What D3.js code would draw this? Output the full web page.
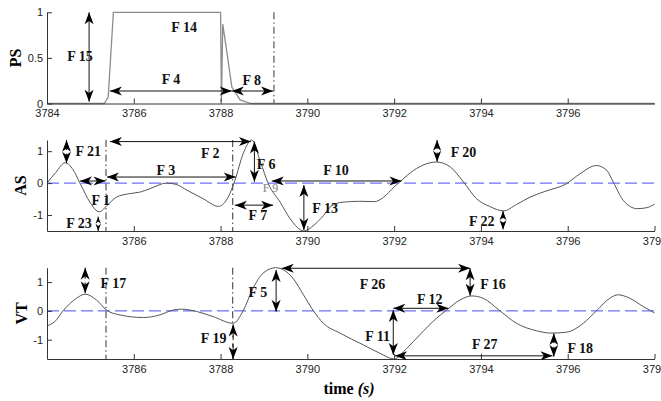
<!DOCTYPE html>
<html>
<head>
<meta charset="utf-8">
<script src="https://cdn.jsdelivr.net/npm/d3@7"></script>
<style>
  body { margin: 0; background: #fff; }
</style>
</head>
<body>
<div id="chart"></div>
<script>
// ---- data ----
const psTime  = [3784.00, 3785.32, 3785.41, 3785.53, 3788.00, 3788.02, 3788.05, 3788.14, 3788.26, 3788.45, 3788.70, 3798.00];
const psValue = [0, 0, 0.07, 1, 1, 0.02, 0.87, 0.58, 0.18, 0.04, 0, 0];

const asTime  = [3784.00, 3784.20, 3784.42, 3784.60, 3784.76, 3785.00, 3785.20, 3785.40, 3785.60, 3785.90, 3786.15, 3786.40,
                 3786.75, 3786.95, 3787.25, 3787.60, 3787.95, 3788.15, 3788.33, 3788.52, 3788.72, 3788.92, 3789.10, 3789.37,
                 3789.60, 3789.92, 3790.15, 3790.37, 3790.55, 3790.80, 3791.20, 3791.55, 3791.75, 3792.00, 3792.15, 3792.45,
                 3792.98, 3793.30, 3793.60, 3793.90, 3794.20, 3794.52, 3794.82, 3795.13, 3795.50, 3795.97, 3796.28, 3796.66,
                 3796.90, 3797.05, 3797.28, 3797.60, 3797.82, 3798.00];
const asValue = [0.00, 0.33, 0.64, 0.42, 0.00, -0.62, -0.90, -0.68, -0.44, -0.33, -0.28, -0.16,
                 0.00, -0.03, -0.24, -0.49, -0.73, -0.50, 0.08, 0.92, 1.35, 0.66, -0.02, -0.59,
                 -1.11, -1.50, -1.32, -1.02, -0.72, -0.60, -0.57, -0.58, -0.45, -0.12, 0.06, 0.40,
                 0.66, 0.50, 0.03, -0.49, -0.73, -0.87, -0.67, -0.44, -0.25, -0.02, 0.29, 0.55,
                 0.40, 0.03, -0.54, -0.80, -0.77, -0.66];

const vtTime  = [3784.00, 3784.18, 3784.37, 3784.68, 3784.88, 3785.14, 3785.37, 3785.68, 3786.22, 3786.60, 3786.91, 3787.10,
                 3787.45, 3787.83, 3788.29, 3788.52, 3788.75, 3788.98, 3789.27, 3789.67, 3789.91, 3790.14, 3790.37, 3790.75,
                 3791.29, 3791.67, 3792.00, 3792.29, 3792.59, 3792.98, 3793.21, 3793.52, 3793.79, 3794.05, 3794.44, 3794.82,
                 3795.28, 3795.62, 3795.97, 3796.36, 3796.66, 3796.97, 3797.16, 3797.43, 3797.74, 3798.00];
const vtValue = [-0.52, -0.37, 0.00, 0.44, 0.58, 0.38, 0.03, -0.14, -0.23, -0.14, 0.03, 0.06,
                 -0.02, -0.20, -0.43, 0.00, 0.79, 1.31, 1.50, 1.13, 0.56, 0.00, -0.43, -0.77,
                 -1.18, -1.47, -1.67, -1.30, -0.83, -0.25, 0.03, 0.38, 0.52, 0.44, 0.00, -0.43,
                 -0.69, -0.77, -0.74, -0.43, 0.00, 0.44, 0.56, 0.44, 0.15, -0.07];

const psXTicks = [3784, 3786, 3788, 3790, 3792, 3794, 3796];
const xTicks   = [3786, 3788, 3790, 3792, 3794, 3796, 3798];
const psYTicks = [0, 0.5, 1];
const yTicks   = [-1, 0, 1];

// dash-dot event markers (time)
const psMarks = [3789.23];
const asMarks = [3785.36, 3788.28];
const vtMarks = [3785.36, 3788.28];

// feature annotations: label at (lt, lv), arrow from a to b (time, value)
const psNotes = [
  { label: "F 15", lt: 3784.76, lv: 0.51, a: [3784.97, 1.0], b: [3784.97, 0.02], kind: "double" },
  { label: "F 14", lt: 3787.16, lv: 0.83 },
  { label: "F 4",  lt: 3786.86, lv: 0.26, a: [3785.45, 0.137], b: [3788.26, 0.137], kind: "double" },
  { label: "F 8",  lt: 3788.72, lv: 0.25, a: [3788.26, 0.137], b: [3789.21, 0.137], kind: "double" }
];
const asNotes = [
  { label: "F 21", lt: 3784.95, lv: 0.98,  a: [3784.45, 1.35],  b: [3784.45, 0.62],  kind: "dot" },
  { label: "F 23", lt: 3784.74, lv: -1.26, a: [3785.18, -1.05], b: [3785.18, -1.5],  kind: "dot" },
  { label: "F 1",  lt: 3785.24, lv: -0.53, a: [3784.76, 0.066], b: [3785.35, 0.066], kind: "double" },
  { label: "F 2",  lt: 3787.76, lv: 0.93,  a: [3785.45, 1.30],  b: [3788.70, 1.30],  kind: "double" },
  { label: "F 3",  lt: 3786.74, lv: 0.41,  a: [3785.38, 0.19],  b: [3788.35, 0.19],  kind: "double" },
  { label: "F 6",  lt: 3789.05, lv: 0.57,  a: [3788.78, 1.30],  b: [3788.78, 0.04],  kind: "double" },
  { label: "F 9",  lt: 3789.15, lv: -0.16, muted: true },
  { label: "F 10", lt: 3790.66, lv: 0.41,  a: [3789.18, 0.066], b: [3792.17, 0.066], kind: "double" },
  { label: "F 7",  lt: 3788.86, lv: -1.02, a: [3788.33, -0.69], b: [3789.21, -0.69], kind: "double" },
  { label: "F 13", lt: 3790.41, lv: -0.78, a: [3789.92, -0.06], b: [3789.92, -1.47], kind: "double" },
  { label: "F 20", lt: 3793.60, lv: 0.97,  a: [3792.99, 1.35],  b: [3792.99, 0.67],  kind: "dot" },
  { label: "F 22", lt: 3794.02, lv: -1.21, a: [3794.51, -0.87], b: [3794.51, -1.45], kind: "dot" }
];
const vtNotes = [
  { label: "F 17", lt: 3785.53, lv: 0.96,  a: [3784.88, 1.50],  b: [3784.88, 0.61],  kind: "dot" },
  { label: "F 19", lt: 3787.84, lv: -0.95, a: [3788.29, -0.47], b: [3788.29, -1.67], kind: "dot" },
  { label: "F 5",  lt: 3788.86, lv: 0.65,  a: [3789.28, 1.42],  b: [3789.28, -0.03], kind: "double" },
  { label: "F 26", lt: 3791.50, lv: 0.92,  a: [3789.41, 1.48],  b: [3793.75, 1.48],  kind: "double" },
  { label: "F 16", lt: 3794.28, lv: 0.92,  a: [3793.75, 1.48],  b: [3793.75, 0.53],  kind: "double" },
  { label: "F 12", lt: 3792.82, lv: 0.38,  a: [3791.98, 0.09],  b: [3793.25, 0.09],  kind: "double" },
  { label: "F 11", lt: 3791.62, lv: -0.90, a: [3791.98, 0.03],  b: [3791.98, -1.53], kind: "double" },
  { label: "F 27", lt: 3794.09, lv: -1.18, a: [3792.02, -1.56], b: [3795.65, -1.56], kind: "double" },
  { label: "F 18", lt: 3796.29, lv: -1.32, a: [3795.68, -0.78], b: [3795.68, -1.59], kind: "dot" }
];

// ---- layout ----
const width = 661, height = 401;
const svg = d3.select("#chart").append("svg")
    .attr("width", width)
    .attr("height", height)
    .style("font-family", "'Liberation Sans', Arial, sans-serif");

const x = d3.scaleLinear().domain([3784, 3798]).range([47, 654.5]);

const panels = [
  { name: "PS", time: psTime, value: psValue, top: 12.3, bottom: 103.5, xTicks: psXTicks, yTicks: psYTicks,
    marks: psMarks, notes: psNotes, zero: false, stroke: "#8c8c8c", strokeWidth: 1.3, ylabelX: 15.5 },
  { name: "AS", time: asTime, value: asValue, top: 140, bottom: 231, xTicks: xTicks, yTicks: yTicks,
    marks: asMarks, notes: asNotes, zero: true, stroke: "#555", strokeWidth: 1, ylabelX: 20 },
  { name: "VT", time: vtTime, value: vtValue, top: 267.7, bottom: 359, xTicks: xTicks, yTicks: yTicks,
    marks: vtMarks, notes: vtNotes, zero: true, stroke: "#555", strokeWidth: 1, ylabelX: 21 }
];

function arrowHead(g, tx, ty, fx, fy, len) {
  const L = Math.min(12, len / 2), W = L * 0.75;
  const ang = Math.atan2(ty - fy, tx - fx) * 180 / Math.PI;
  g.append("path")
    .attr("d", `M0,0L${-L},${-W / 2}L${-0.72 * L},0L${-L},${W / 2}Z`)
    .attr("transform", `translate(${tx},${ty}) rotate(${ang})`)
    .attr("fill", "#000");
}

panels.forEach(p => {
  const y = d3.scaleLinear().domain(d3.extent(p.value)).range([p.bottom, p.top]);
  const g = svg.append("g");
  const pts = p.time.map((t, i) => [t, p.value[i]]);

  // blue zero reference
  if (p.zero) {
    g.append("line")
      .attr("x1", x(3784)).attr("x2", x(3798))
      .attr("y1", y(0)).attr("y2", y(0))
      .attr("stroke", "#4b4bf5").attr("stroke-width", 1)
      .attr("stroke-dasharray", "12,5");
  }

  // dash-dot markers
  p.marks.forEach(t => {
    g.append("line")
      .attr("x1", x(t)).attr("x2", x(t))
      .attr("y1", p.top).attr("y2", p.bottom)
      .attr("stroke", "#333").attr("stroke-width", 1)
      .attr("stroke-dasharray", "7,3,1.5,3");
  });

  // signal
  const line = d3.line()
    .x(d => x(d[0]))
    .y(d => y(d[1]))
    .curve(p.name === "PS" ? d3.curveLinear : d3.curveMonotoneX);
  g.append("path")
    .datum(pts)
    .attr("d", line)
    .attr("fill", "none")
    .attr("stroke", p.stroke)
    .attr("stroke-width", p.strokeWidth);

  // axes (ticks inside, MATLAB style)
  const xAxis = g.append("g")
    .attr("transform", `translate(0,${p.bottom})`)
    .call(d3.axisBottom(x).tickValues(p.xTicks).tickSizeInner(-5).tickSizeOuter(0).tickPadding(6).tickFormat(d3.format("d")));
  const yAxis = g.append("g")
    .attr("transform", `translate(${x(3784)},0)`)
    .call(d3.axisLeft(y).tickValues(p.yTicks).tickSizeInner(-5).tickSizeOuter(0).tickPadding(4).tickFormat(d => String(d)));
  [xAxis, yAxis].forEach(a => {
    a.select(".domain").attr("stroke", "#333");
    a.selectAll(".tick line").attr("stroke", "#333");
    a.selectAll(".tick text").attr("fill", "#222").style("font-size", "11px")
      .style("font-family", "'Liberation Sans', Arial, sans-serif");
  });

  // y label
  g.append("text")
    .attr("transform", `translate(${p.ylabelX},${(p.top + p.bottom) / 2}) rotate(-90)`)
    .attr("text-anchor", "middle")
    .attr("dominant-baseline", "central")
    .style("font-family", "'Liberation Serif', 'Times New Roman', serif")
    .style("font-weight", "bold")
    .style("font-size", "16px")
    .text(p.name);

  // annotations
  p.notes.forEach(n => {
    if (n.a) {
      const x1 = x(n.a[0]), y1 = y(n.a[1]), x2 = x(n.b[0]), y2 = y(n.b[1]);
      const len = Math.hypot(x2 - x1, y2 - y1);
      g.append("line")
        .attr("x1", x1).attr("y1", y1).attr("x2", x2).attr("y2", y2)
        .attr("stroke", "#111").attr("stroke-width", 1);
      arrowHead(g, x1, y1, x2, y2, len);
      arrowHead(g, x2, y2, x1, y1, len);
      if (n.kind === "dot") {
        g.append("ellipse")
          .attr("cx", (x1 + x2) / 2).attr("cy", (y1 + y2) / 2)
          .attr("rx", 1.4).attr("ry", 2)
          .attr("fill", "#fff");
      }
    }
    g.append("text")
      .attr("x", x(n.lt)).attr("y", y(n.lv))
      .attr("text-anchor", "middle")
      .attr("dominant-baseline", "central")
      .style("font-family", "'Liberation Serif', 'Times New Roman', serif")
      .style("font-weight", n.muted ? "normal" : "bold")
      .style("font-size", n.muted ? "12px" : "14px")
      .attr("fill", n.muted ? "#808080" : "#111")
      .text(n.label);
  });
});

// x axis title
const title = svg.append("text")
  .attr("x", 349).attr("y", 388)
  .attr("text-anchor", "middle")
  .attr("dominant-baseline", "central")
  .style("font-family", "'Liberation Serif', 'Times New Roman', serif")
  .style("font-weight", "bold")
  .style("font-size", "16px");
title.append("tspan").text("time ");
title.append("tspan").style("font-style", "italic").text("(s)");
</script>
</body>
</html>
